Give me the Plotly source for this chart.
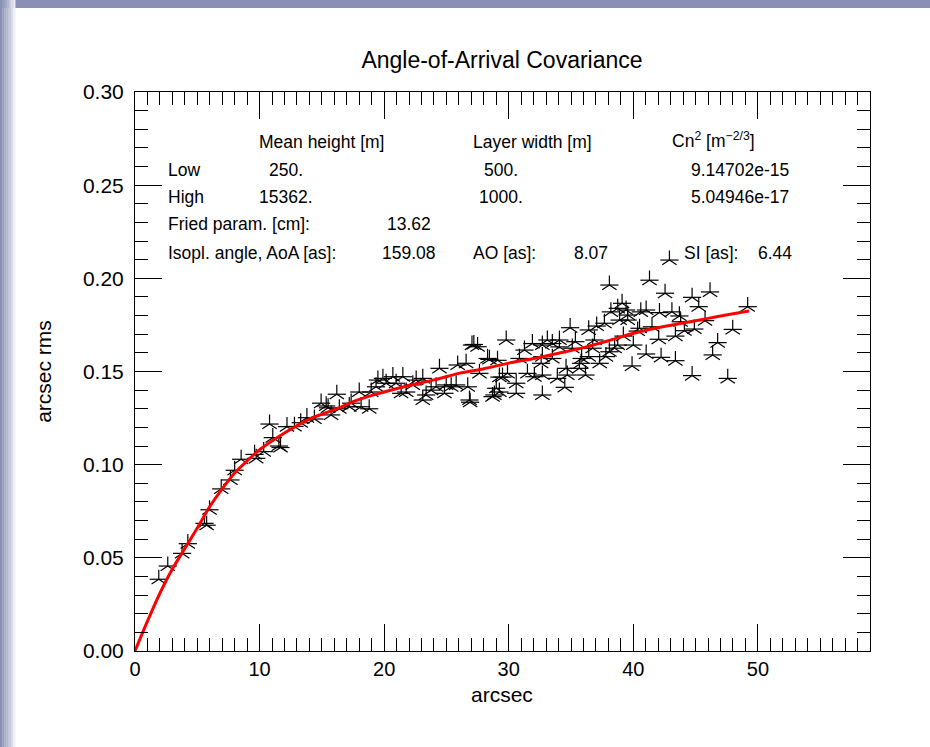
import plotly.graph_objects as go

# ---------------- data ----------------
obs_x = [1.91, 2.63, 3.78, 4.24, 5.58, 5.75, 5.98, 6.92, 7.66, 8.0, 8.52, 9.6, 9.73, 10.33,
         10.8, 11.06, 11.55, 11.68, 12.2, 12.8, 13.3, 13.8, 14.4, 14.94, 15.35, 15.5, 15.74,
         16.2, 16.4, 17.2, 17.35, 18.0, 18.15, 18.8, 18.96, 19.35, 19.5, 19.9, 20.16, 20.7,
         20.96, 21.36, 21.5, 21.77, 22.3, 22.57, 23.1, 23.1, 23.37, 23.77, 24.17, 24.44, 24.84,
         24.98, 25.38, 25.78, 25.9, 26.58, 26.71, 26.85, 26.9, 27.05, 27.2, 27.5, 27.65, 28.3,
         28.45, 28.7, 28.85, 29.0, 29.1, 29.25, 29.25, 29.5, 29.8, 29.9, 30.6, 30.6, 30.86,
         31.26, 31.5, 31.9, 32.06, 32.6, 32.7, 32.7, 32.7, 32.7, 33.1, 33.5, 33.5, 33.9, 34.07,
         34.07, 34.5, 34.6, 34.7, 34.93, 35.1, 35.35, 35.67, 35.8, 35.85, 36.16, 36.42, 36.42,
         36.74, 36.88, 37.06, 37.3, 37.68, 37.8, 38.08, 38.08, 38.2, 38.5, 38.75, 38.75, 38.9,
         39.1, 39.2, 39.42, 39.55, 39.55, 39.9, 40.0, 40.35, 40.5, 40.6, 41.03, 41.03, 41.3,
         41.5, 42.04, 42.1, 42.23, 42.55, 42.9, 43.1, 43.38, 43.38, 43.7, 43.8, 44.1, 44.72,
         44.72, 44.9, 45.25, 45.76, 46.16, 46.37, 46.77, 47.58, 47.98, 49.18]
obs_y = [0.0385, 0.0456, 0.0524, 0.0576, 0.0685, 0.0675, 0.0758, 0.087, 0.0918, 0.097, 0.1029,
         0.1055, 0.1034, 0.107, 0.1218, 0.1145, 0.110, 0.1092, 0.1204, 0.1205, 0.1225, 0.1252,
         0.1245, 0.133, 0.1315, 0.1305, 0.1267, 0.1378, 0.130, 0.1311, 0.133, 0.139, 0.1311,
         0.130, 0.139, 0.1418, 0.1454, 0.1463, 0.1437, 0.1472, 0.1437, 0.1383, 0.1472, 0.139,
         0.1428, 0.1454, 0.1463, 0.1347, 0.1374, 0.140, 0.1418, 0.1517, 0.1383, 0.1428, 0.1418,
         0.1428, 0.1535, 0.1544, 0.1418, 0.1347, 0.1335, 0.1642, 0.1645, 0.1633, 0.149, 0.157,
         0.1565, 0.1365, 0.1374, 0.141, 0.156, 0.147, 0.139, 0.147, 0.1669, 0.149, 0.1437,
         0.1383, 0.157, 0.1615, 0.149, 0.165, 0.1472, 0.1544, 0.1642, 0.158, 0.1481, 0.1374,
         0.1669, 0.165, 0.157, 0.1463, 0.1669, 0.1632, 0.1415, 0.1517, 0.1481, 0.1735, 0.1625,
         0.166, 0.1517, 0.1544, 0.1570, 0.1481, 0.158, 0.1723, 0.1625, 0.1669, 0.1744, 0.1544,
         0.1759, 0.158, 0.1606, 0.1964, 0.182, 0.1625, 0.1642, 0.1839, 0.1776, 0.1866, 0.169,
         0.183, 0.1776, 0.1803, 0.153, 0.1642, 0.1717, 0.1732, 0.182, 0.183, 0.1594, 0.199,
         0.174, 0.1673, 0.1816, 0.1576, 0.192, 0.2098, 0.182, 0.1558, 0.169, 0.1798, 0.1767,
         0.1719, 0.1898, 0.1478, 0.1728, 0.1848, 0.1773, 0.1927, 0.1589, 0.1655, 0.1463,
         0.1726, 0.1848]

fit_x = [0, 1, 2, 3, 4, 5, 6, 7, 8, 9, 10, 12, 14, 16, 18, 20, 22, 24, 26, 28, 30, 32, 34,
         36, 38, 40, 42, 44, 46, 48, 49.3]
fit_y = [0.0, 0.016, 0.031, 0.044, 0.055, 0.066, 0.0775, 0.087, 0.0955, 0.102, 0.108, 0.117,
         0.1245, 0.1295, 0.135, 0.139, 0.1425, 0.1455, 0.149, 0.1515, 0.1545, 0.157, 0.1598,
         0.1628, 0.1665, 0.1705, 0.1735, 0.176, 0.1785, 0.181, 0.1825]

x_ticks = [0, 10, 20, 30, 40, 50]
y_ticks = [0.00, 0.05, 0.10, 0.15, 0.20, 0.25, 0.30]

title = "Angle-of-Arrival Covariance"
x_title = "arcsec"
y_title = "arcsec rms"

# info text block: (text, pixel x, pixel y)
info_text = [
    ("Mean height [m]", 257, 142),
    ("Layer width [m]", 471, 142),
    ("Cn<sup>2</sup> [m<sup>\u22122/3</sup>]", 670, 140),
    ("Low", 166, 170), ("250.", 267, 170), ("500.", 482, 170), ("9.14702e-15", 689, 170),
    ("High", 166, 197), ("15362.", 257, 197), ("1000.", 477, 197), ("5.04946e-17", 689, 197),
    ("Fried param. [cm]:", 166, 224), ("13.62", 385, 224),
    ("Isopl. angle, AoA [as]:", 166, 253), ("159.08", 380, 253),
    ("AO [as]:", 471, 253), ("8.07", 572, 253),
    ("SI [as]:", 682, 253), ("6.44", 756, 253),
]

# ---------------- layout geometry ----------------
W, H = 930, 747
L, R, T, B = 135, 870, 92, 651
FONT = "Liberation Sans, Arial, Helvetica, sans-serif"


def px2paper(px, py):
    return (px - L) / (R - L), (B - py) / (B - T)


fig = go.Figure()

# asterisk markers (IDL psym=2 look): "Y" with arms + horizontal bar
fig.add_trace(go.Scatter(x=obs_x, y=obs_y, mode="markers", showlegend=False,
                         marker=dict(symbol="y-up-open", size=12,
                                     line=dict(color="black", width=1.2), color="black"),
                         hoverinfo="skip"))
fig.add_trace(go.Scatter(x=obs_x, y=obs_y, mode="markers", showlegend=False,
                         marker=dict(symbol="line-ew-open", size=13,
                                     line=dict(color="black", width=1.2), color="black")))
fig.add_trace(go.Scatter(x=fit_x, y=fit_y, mode="lines", showlegend=False,
                         line=dict(color="#ff0000", width=3, shape="spline")))

annotations = []
for txt, px, py in info_text:
    ax, ay = px2paper(px, py)
    annotations.append(dict(text=txt, x=ax, y=ay, xref="paper", yref="paper",
                            xanchor="left", yanchor="middle", showarrow=False,
                            font=dict(family=FONT, size=17.5, color="black")))

# x-axis title placed precisely under the tick labels
xt_x, xt_y = px2paper(502, 681)
annotations.append(dict(text=x_title, x=xt_x, y=xt_y, xref="paper", yref="paper",
                        xanchor="center", yanchor="top", showarrow=False,
                        font=dict(family=FONT, size=21, color="black")))

# bluish frame around the page (top band and left gradient band)
shapes = []
x0, y0 = px2paper(0, 0)
x1, y1 = px2paper(W, 8)
shapes.append(dict(type="rect", xref="paper", yref="paper", x0=x0, x1=x1, y0=y1, y1=y0 + 0.05,
                   fillcolor="#8990b4", line=dict(width=0), layer="below"))
band_cols = ["#8990b4", "#959cbd", "#a3a9c6", "#b3b8d0", "#c6cadc", "#dadce8", "#eeeff5"]
for i, c in enumerate(band_cols):
    bx0, by0 = px2paper(i * 2.2, H)
    bx1, by1 = px2paper(i * 2.2 + 2.2, 0)
    shapes.append(dict(type="rect", xref="paper", yref="paper", x0=bx0, x1=bx1, y0=by0 - 0.05,
                       y1=by1 + 0.05, fillcolor=c, line=dict(width=0), layer="below"))

fig.update_layout(
    width=W, height=H,
    margin=dict(l=L, r=W - R, t=T, b=H - B, pad=0),
    paper_bgcolor="white", plot_bgcolor="white",
    font=dict(family=FONT, color="black"),
    title=dict(text=title, x=(502) / W, xanchor="center", y=1 - 60 / H, yanchor="middle",
               font=dict(family=FONT, size=23, color="black")),
    annotations=annotations,
    shapes=shapes,
    xaxis=dict(range=[0, 59], tickvals=x_ticks, ticktext=[str(v) for v in x_ticks],
               ticks="inside", ticklen=27, tickwidth=1, tickcolor="black",
               minor=dict(dtick=1, ticks="inside", ticklen=13, tickwidth=1, tickcolor="black"),
               showline=True, linecolor="black", linewidth=1, mirror="ticks",
               showgrid=False, zeroline=False, ticklabelstandoff=0,
               tickfont=dict(family=FONT, size=20, color="black")),
    yaxis=dict(range=[0, 0.30], tickvals=y_ticks, ticktext=[f"{v:.2f}" for v in y_ticks],
               ticks="inside", ticklen=27, tickwidth=1, tickcolor="black",
               minor=dict(dtick=0.01, ticks="inside", ticklen=13, tickwidth=1, tickcolor="black"),
               showline=True, linecolor="black", linewidth=1, mirror="ticks",
               showgrid=False, zeroline=False, ticklabelstandoff=6,
               tickfont=dict(family=FONT, size=21, color="black"),
               title=dict(text=y_title, font=dict(family=FONT, size=21, color="black"), standoff=25)),
)

fig.write_html("out.html", config={"displayModeBar": False},
               post_script="document.body.style.margin='0px';")
